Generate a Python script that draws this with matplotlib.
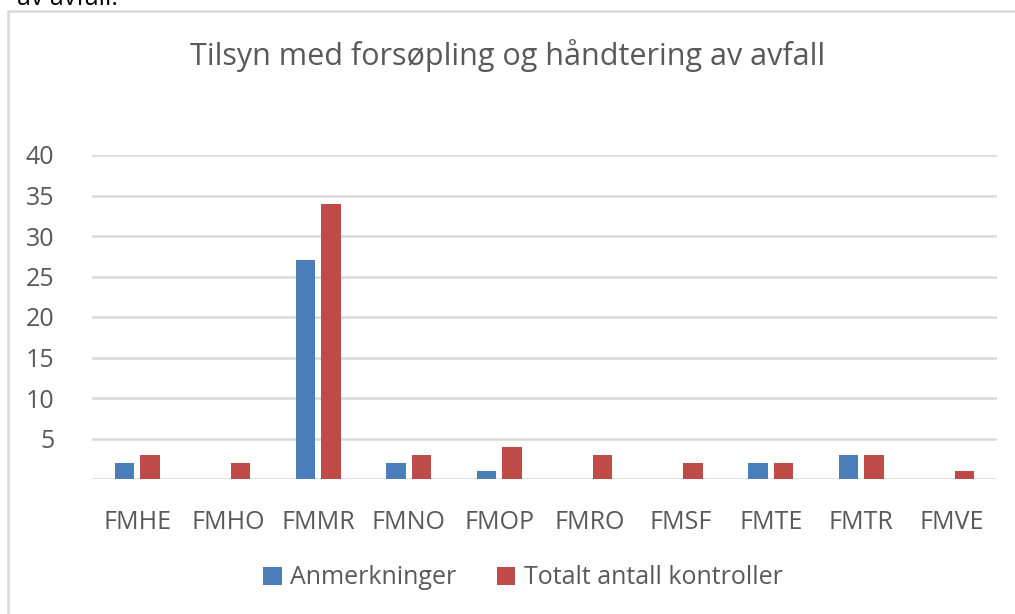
import matplotlib.pyplot as plt
import matplotlib.patches as mpatches
import numpy as np

# Data
kategorier = ["FMHE", "FMHO", "FMMR", "FMNO", "FMOP", "FMRO", "FMSF", "FMTE", "FMTR", "FMVE"]
anmerkninger = [2, 0, 27, 2, 1, 0, 0, 2, 3, 0]
totalt = [3, 2, 34, 3, 4, 3, 2, 2, 3, 1]
y_ticks = [5, 10, 15, 20, 25, 30, 35, 40]

plt.rcParams['font.family'] = ['Open Sans', 'DejaVu Sans']
tekst = '#595959'
blaa = '#4A7EBB'
roed = '#BE4B48'

W, H = 1015, 614
fig = plt.figure(figsize=(W / 100, H / 100), dpi=100)

# ramme rundt diagrammet
ramme = mpatches.Rectangle((8 / W, -0.1), 1.2, 1.1 - 11 / H, transform=fig.transFigure,
                           fill=False, edgecolor='#D9D9D9', linewidth=1.8)
fig.patches.append(ramme)

# avkuttet tekst øverst (som i originalen)
fig.text(17 / W, 1 - 5 / H, "av avfall.", fontsize=18, color='black', va='baseline')

ax = fig.add_axes([92 / W, 1 - 479 / H, (997 - 92) / W, (479 - 155) / H])

x = np.arange(len(kategorier))
b = 0.215
gap = 0.035
ax.bar(x - b / 2 - gap, anmerkninger, b, color=blaa, label='Anmerkninger', zorder=3)
ax.bar(x + b / 2 + gap, totalt, b, color=roed, label='Totalt antall kontroller', zorder=3)

ax.set_xlim(-0.5, len(kategorier) - 0.5)
ax.set_ylim(0, 40)
ax.set_yticks(y_ticks)
ax.set_xticks(x)
ax.set_xticklabels(kategorier)
ax.yaxis.grid(True, color='#D9D9D9', linewidth=1.8, zorder=0)
ax.axhline(0, color='#D9D9D9', linewidth=1.8, zorder=1)
for s in ax.spines.values():
    s.set_visible(False)
ax.tick_params(axis='both', length=0, labelsize=18, colors=tekst)
ax.tick_params(axis='y', pad=27)
ax.tick_params(axis='x', pad=22)

fig.text(0.5, 1 - 56 / H, "Tilsyn med forsøpling og håndtering av avfall",
         ha='center', va='center', fontsize=22, color=tekst)

fig.legend(*ax.get_legend_handles_labels(), loc='center',
           bbox_to_anchor=(523 / W, 1 - 578 / H), ncol=2,
           frameon=False, fontsize=18, labelcolor=tekst, handlelength=0.75,
           handleheight=0.75, handletextpad=0.35, columnspacing=1.6)

fig.savefig('out.png', dpi=100)
